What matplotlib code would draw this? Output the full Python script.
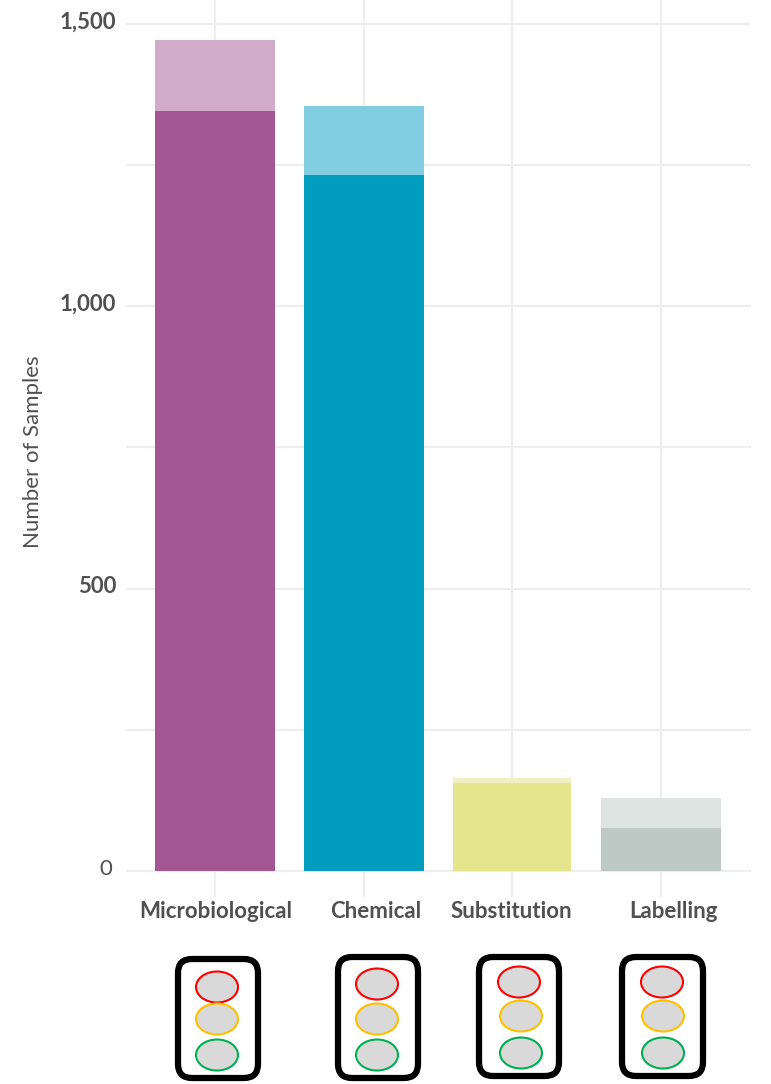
import matplotlib
matplotlib.use("Agg")
import matplotlib.pyplot as plt
from matplotlib.patches import Ellipse, FancyBboxPatch
from matplotlib.transforms import ScaledTranslation

plt.rcParams["font.family"] = ["Lato", "DejaVu Sans"]

# Sample counts per test type
categories = ["Microbiological", "Chemical", "Substitution", "Labelling"]
lower_counts = [1346, 1232, 156, 76]
upper_counts = [125, 123, 9, 53]

dark_colors = ["#A25793", "#009DBF", "#E5E58D", "#BCC9C5"]
light_colors = ["#D1ABCA", "#80CEE0", "#F1F0C4", "#DDE4E2"]
bar_widths = [0.807, 0.807, 0.794, 0.807]
label_shift_px = [1, 12, -1, 12]

y_ticks = [0, 250, 500, 750, 1000, 1250, 1500]
y_tick_labels = ["0", "", "500", "", "1,000", "", "1,500"]

TEXT = "#505050"
GRID = "#EEEEEE"
W, H = 771, 1084

fig = plt.figure(figsize=(W / 100, H / 100), dpi=100)
ax = fig.add_axes([126 / W, 1 - 897 / H, 625 / W, 897 / H])

positions = range(len(categories))
ax.bar(positions, lower_counts, width=bar_widths, color=dark_colors, zorder=3)
ax.bar(positions, upper_counts, width=bar_widths, bottom=lower_counts, color=light_colors, zorder=3)

ax.set_xlim(-0.6, 3.605)
ax.set_ylim(-46, 1542)
ax.grid(True, color=GRID, linewidth=1.6, zorder=0)
ax.set_axisbelow(True)
for spine in ax.spines.values():
    spine.set_visible(False)

ax.set_yticks(y_ticks)
ax.set_yticklabels(y_tick_labels)
ax.set_xticks(list(positions))
ax.set_xticklabels(categories)
ax.tick_params(axis="both", length=0)
ax.tick_params(axis="y", pad=7)
ax.tick_params(axis="x", pad=3)

for label, shift in zip(ax.get_xticklabels(), label_shift_px):
    label.set_fontsize(16)
    label.set_fontweight("bold")
    label.set_color(TEXT)
    label.set_transform(label.get_transform() + ScaledTranslation(shift / 100, 0, fig.dpi_scale_trans))

for label in ax.get_yticklabels():
    is_zero = label.get_text() == "0"
    label.set_fontsize(16)
    label.set_fontweight("normal" if is_zero else "bold")
    label.set_color(TEXT)
    shift_x = -4 if is_zero else 0
    label.set_transform(label.get_transform() + ScaledTranslation(shift_x / 100, 4 / 100, fig.dpi_scale_trans))

fig.text(33 / W, 1 - 452 / H, "Number of Samples", rotation=90, ha="center", va="center",
         fontsize=16, color=TEXT)

# Traffic-light icons under the bars, laid out in pixel coordinates
overlay = fig.add_axes([0, 0, 1, 1], facecolor="none")
overlay.set_xlim(0, W)
overlay.set_ylim(H, 0)
overlay.axis("off")

boxes = [(175, 956, 261, 1081), (335, 954, 421, 1081), (476, 954, 562, 1079), (619, 954, 706, 1079)]
lamps = [
    [(217, 987), (217, 1019), (217, 1055)],
    [(377, 984), (377, 1019), (377, 1055)],
    [(519, 982), (521, 1016), (521, 1053)],
    [(662, 982), (663, 1016), (663, 1053)],
]
lamp_colors = ["#FF0000", "#FFC000", "#00B050"]

for (x0, y0, x1, y1), centres in zip(boxes, lamps):
    overlay.add_patch(FancyBboxPatch(
        (x0 + 3, y0 + 3), x1 - x0 - 6, y1 - y0 - 6,
        boxstyle="round,pad=0,rounding_size=14",
        facecolor="white", edgecolor="black", linewidth=4.5,
    ))
    for centre, colour in zip(centres, lamp_colors):
        overlay.add_patch(Ellipse(centre, 42, 31, facecolor="#D9D9D9", edgecolor=colour, linewidth=1.5))

plt.savefig("out.png", dpi=100)
plt.close()
